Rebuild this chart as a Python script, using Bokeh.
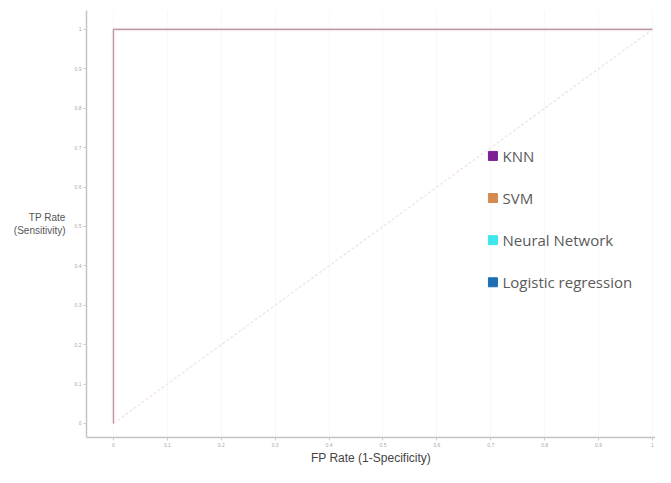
from bokeh.plotting import figure
from bokeh.models import Range1d, FixedTicker, ColumnDataSource
from bokeh.core.properties import value
from bokeh.embed import file_html
from bokeh.resources import INLINE

# ---- data ----
roc_fpr = [0.0, 0.0, 1.0]
roc_tpr = [0.0, 1.0, 1.0]
chance_fpr = [0.0, 1.0]
chance_tpr = [0.0, 1.0]
tick_values = [0.0, 0.1, 0.2, 0.3, 0.4, 0.5, 0.6, 0.7, 0.8, 0.9, 1.0]
tick_labels = ["0", "0.1", "0.2", "0.3", "0.4", "0.5", "0.6", "0.7", "0.8", "0.9", "1"]
models = ["KNN", "SVM", "Neural Network", "Logistic regression"]
model_colors = ["#7d1f93", "#d48a4e", "#3fe6ec", "#1f6db2"]

p = figure(width=655, height=467, output_backend="svg", toolbar_location=None,
           x_range=Range1d(-0.050, 1.0056), y_range=Range1d(-0.0356, 1.048),
           min_border_left=86, min_border_right=0, min_border_top=10, min_border_bottom=26)
p.outline_line_color = None
p.background_fill_color = "white"
p.border_fill_color = "white"

# grid
p.xgrid.grid_line_color = "#f8f8f8"
p.ygrid.grid_line_color = None
p.xgrid.ticker = FixedTicker(ticks=tick_values)

for ax in (p.xaxis[0], p.yaxis[0]):
    ax.ticker = FixedTicker(ticks=tick_values)
    ax.major_label_overrides = {v: l for v, l in zip(tick_values, tick_labels)}
    ax.axis_line_color = "#c4c4c4"
    ax.axis_line_width = 1.5
    ax.major_tick_line_color = "#cccccc"
    ax.major_tick_in = 0
    ax.major_tick_out = 3
    ax.minor_tick_line_color = None
    ax.major_label_text_font_size = "5px"
    ax.major_label_text_color = "#a8a8a8"
    ax.major_label_text_font = "Liberation Sans"
    ax.major_label_standoff = 2

p.xaxis.axis_label = "FP Rate (1-Specificity)"
p.xaxis.axis_label_text_font = "Liberation Sans"
p.xaxis.axis_label_text_font_style = "normal"
p.xaxis.axis_label_text_font_size = "12px"
p.xaxis.axis_label_text_color = "#444444"
p.xaxis.axis_label_standoff = 1

ya = p.yaxis[0]
ya.axis_label = "TP Rate\n(Sensitivity)"
ya.axis_label_text_font = "Liberation Sans"
ya.axis_label_text_font_style = "normal"
ya.axis_label_text_font_size = "10px"
ya.axis_label_text_color = "#555555"
ya.axis_label_standoff = 6
try:
    ya.axis_label_orientation = "horizontal"
except Exception:
    pass

# chance diagonal
p.line(chance_fpr, chance_tpr, line_color="#f4e6e9", line_width=1.5, line_dash="3 2")
# ROC curve (all models overlap)
p.line(roc_fpr, roc_tpr, line_color="#f9e8eb", line_width=3.5)
p.line(roc_fpr, roc_tpr, line_color="#b39ca1", line_width=1.1)

# legend
ly = [0.679 - 0.1069 * i for i in range(len(models))]
src = ColumnDataSource(dict(x=[0.704] * len(models), tx=[0.7217] * len(models), y=ly,
                            name=models, color=model_colors))
p.scatter("x", "y", source=src, marker="square", size=9, fill_color="color", line_color="color")
p.text("tx", "y", text="name", source=src, text_font=value("Open Sans"), text_font_size="15px",
       text_color="#5a5a5a", text_baseline="middle", text_align="left")

open("out.html", "w").write(file_html(p, INLINE))
